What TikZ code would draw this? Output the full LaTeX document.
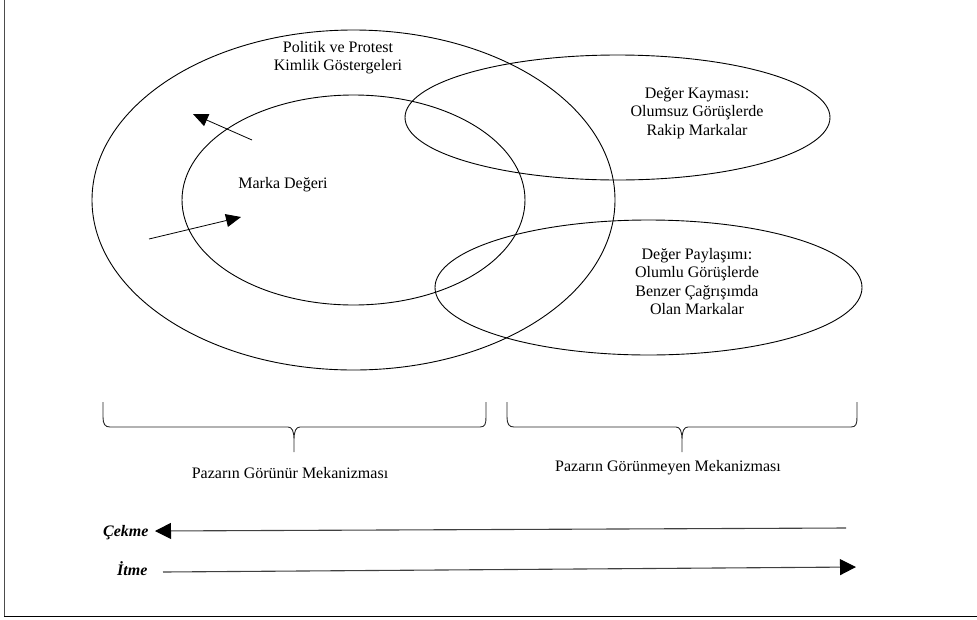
\documentclass[tikz,border=0pt]{standalone}
\usepackage{fontspec}
\setmainfont{Liberation Serif}
\usetikzlibrary{shapes.geometric,arrows.meta}
\tikzset{
  venn/.style={ellipse, draw, line width=0.9pt, inner sep=0pt, outer sep=0pt},
  lbl/.style={align=center, inner sep=0pt, font=\fontsize{16}{18.6}\selectfont},
  bigarrow/.style={line width=0.8pt, -{Triangle[length=15pt,width=13pt]}},
  flowarrow/.style={line width=1.1pt, draw=black!75, -{Triangle[length=16pt,width=16pt,color=black]}},
  bracestyle/.style={line width=0.9pt, black!85},
  kw/.style={inner sep=0pt, font=\fontsize{16}{18}\selectfont\bfseries\itshape}
}
\begin{document}
\begin{tikzpicture}[x=1pt,y=-1pt]
\useasboundingbox (0,0) rectangle (977,619);
% frame
\draw[line width=1pt, black!70] (4,0) -- (4,616);
\draw[line width=1pt] (4,616) -- (977,616);
% ellipses
\node[venn, minimum width=523pt, minimum height=340pt] (outer) at (353.5,200) {};
\node[venn, minimum width=343pt, minimum height=210pt] (inner) at (353.5,200) {};
\node[venn, minimum width=425pt, minimum height=125pt] (shift) at (617.5,117.5) {};
\node[venn, minimum width=427pt, minimum height=135pt] (share) at (648.5,287.5) {};
% labels
\node[lbl] (politik) at (338,57.5) {Politik ve Protest\\Kimlik Göstergeleri};
\node[lbl] (marka) at (283,185) {Marka Değeri};
\node[lbl] (kayma) at (697,113) {Değer Kayması:\\Olumsuz Görüşlerde\\Rakip Markalar};
\node[lbl] (pay) at (697,281.5) {Değer Paylaşımı:\\Olumlu Görüşlerde\\Benzer Çağrışımda\\Olan Markalar};
% inner arrows
\coordinate (a1s) at (252,140);
\coordinate (a1e) at (193,114);
\coordinate (a2s) at (149,239);
\coordinate (a2e) at (241,217);
\draw[bigarrow] (a1s) -- (a1e);
\draw[bigarrow] (a2s) -- (a2e);
% braces
\draw[bracestyle] (103,402) -- (103,417) .. controls (103,424) and (105,427) .. (110,427)
  -- (288,427) .. controls (292,427) and (294,431) .. (294,440) -- (294,452)
  (294,440) .. controls (294,431) and (296,427) .. (300,427)
  -- (480,427) .. controls (485,427) and (486,424) .. (486,417) -- (486,402);
\draw[bracestyle] (507,402) -- (507,417) .. controls (507,424) and (509,427) .. (514,427)
  -- (676,427) .. controls (680,427) and (682,431) .. (682,440) -- (682,452)
  (682,440) .. controls (682,431) and (684,427) .. (688,427)
  -- (851,427) .. controls (856,427) and (857,424) .. (857,417) -- (857,402);
\node[lbl] (gorunur) at (290,473) {Pazarın Görünür Mekanizması};
\node[lbl] (gorunmeyen) at (668,468) {Pazarın Görünmeyen Mekanizması};
% push / pull
\node[kw, anchor=west] (cekme) at (103,533) {Çekme};
\node[kw, anchor=west] (itme) at (117,569) {İtme};
\coordinate (cs) at (846,528);
\coordinate (ce) at (155,531);
\coordinate (is) at (163,572);
\coordinate (ie) at (856,567);
\draw[flowarrow] (cs) -- (ce);
\draw[flowarrow] (is) -- (ie);
\end{tikzpicture}
\end{document}
